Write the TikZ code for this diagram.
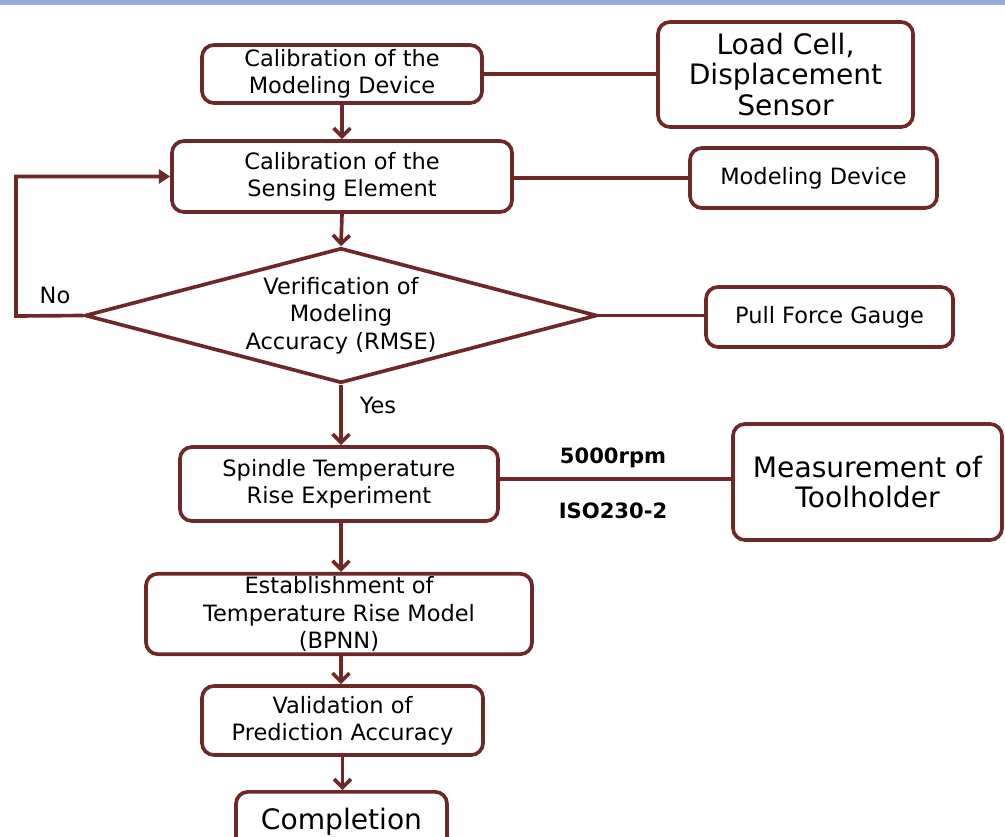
\documentclass[tikz,border=0pt]{standalone}
\usepackage{fontspec}
\setmainfont{DejaVu Sans}
\usepackage{tikz}
\usetikzlibrary{arrows.meta,shapes.geometric}
\usepackage{xcolor}
\definecolor{boxred}{RGB}{110,40,40}
\definecolor{bandblue}{RGB}{150,172,222}

\begin{document}
\begin{tikzpicture}[x=0.025cm, y=-0.025cm,
    midfont/.style={font=\fontsize{16}{19.5}\selectfont},
    bigfont/.style={font=\fontsize{20}{22}\selectfont},
    box/.style={draw=boxred, line width=2.6pt, rounded corners=0.3cm, fill=white,
                align=center, inner sep=2pt, midfont},
    decide/.style={draw=boxred, line width=2.6pt, diamond, inner sep=0pt},
    link/.style={draw=boxred, line width=2.6pt},
    flow/.style={link, -{Straight Barb[length=6pt,width=12pt]}},
    back/.style={link, -{Triangle[length=8pt,width=10pt]}}
  ]
  \useasboundingbox (0,0) rectangle (1005,836);
  \fill [bandblue] (0,0) rectangle (1005,5);

  % main column
  \node [box, minimum width=7cm, minimum height=1.45cm] (calmod) at (342,74)
    {Calibration of the\\Modeling Device};
  \node [box, minimum width=8.5cm, minimum height=1.775cm] (calsen) at (342,176.5)
    {Calibration of the\\Sensing Element};
  \node [decide, minimum width=12.8cm, minimum height=3.375cm,
         label={[align=center, midfont]center:Verification of\\Modeling\\Accuracy (RMSE)}]
    (verify) at (341,315.5) {};
  \node [box, minimum width=7.95cm, minimum height=1.85cm] (spindle) at (339,484)
    {Spindle Temperature\\Rise Experiment};
  \node [box, minimum width=9.65cm, minimum height=2cm] (model) at (339,614)
    {Establishment of\\Temperature Rise Model\\(BPNN)};
  \node [box, minimum width=7.025cm, minimum height=1.725cm] (valid) at (342.5,720.5)
    {Validation of\\Prediction Accuracy};
  \node [box, bigfont, minimum width=5.275cm, minimum height=1.5cm, anchor=north] (done) at (341.5,790)
    {Completion};

  % side boxes
  \node [box, bigfont, minimum width=6.375cm, minimum height=2.625cm] (load) at (785.5,74.5)
    {Load Cell,\\Displacement\\Sensor};
  \node [box, minimum width=6.175cm, minimum height=1.5cm] (device) at (813.5,178)
    {Modeling Device};
  \node [box, minimum width=6.175cm, minimum height=1.5cm] (gauge) at (829.5,317)
    {Pull Force Gauge};
  \node [box, bigfont, minimum width=6.725cm, minimum height=2.9cm] (tool) at (867.5,482)
    {Measurement of\\Toolholder};

  % connectors
  \draw [flow] (calmod.south) -- (calsen.north);
  \draw [flow] (calsen.south) -- (verify.north);
  \draw [flow] (verify.south) -- (verify.south |- spindle.north);
  \draw [flow] (verify.south |- spindle.south) -- (verify.south |- model.north);
  \draw [flow] (verify.south |- model.south) -- (verify.south |- valid.north);
  \draw [flow] (valid.south) -- (valid.south |- done.north);
  \coordinate (turn) at (16,316);
  \draw [back] (verify.west) -- (turn) |- (calsen.west);
  \draw [link] (calmod.east) -- (calmod.east -| load.west);
  \draw [link] (calsen.east |- device.west) -- (device.west);
  \draw [link] (verify.east) -- (verify.east -| gauge.west);
  \draw [link] (spindle.east |- 0,479) -- (tool.west |- 0,479);

  % labels
  \node [midfont] (no) at (55,295) {No};
  \node [midfont] (yes) at (378,405) {Yes};
  \node [font=\fontsize{15}{18}\selectfont\bfseries] (rpm) at (613,458) {5000rpm};
  \node [font=\fontsize{15}{18}\selectfont\bfseries] (iso) at (613,511) {ISO230-2};
\end{tikzpicture}
\end{document}
